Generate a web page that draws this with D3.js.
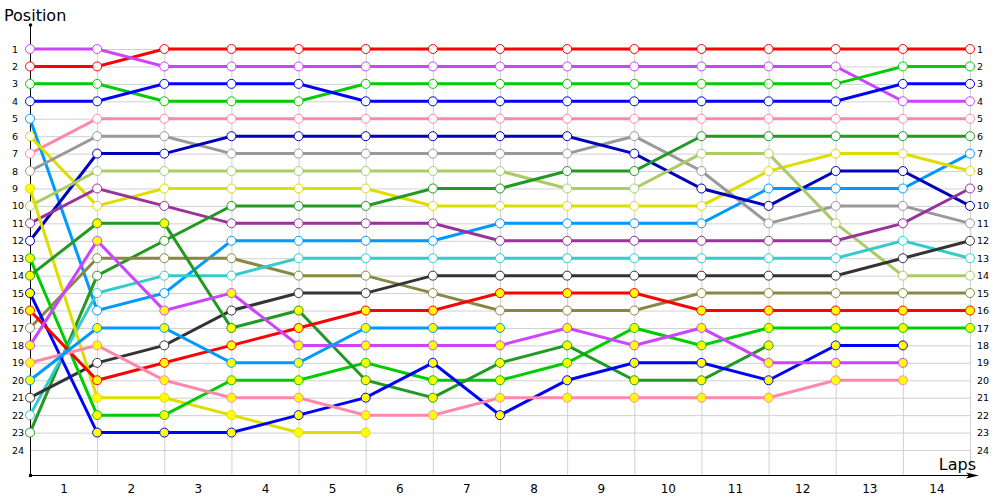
<!DOCTYPE html>
<html>
<head>
<meta charset="utf-8">
<script src="https://cdn.jsdelivr.net/npm/d3@7"></script>
<style>
	body { margin: 0; background: #fff; }
	text { font-family: Tahoma, "DejaVu Sans", sans-serif; }
</style>
</head>
<body>
<div id="chart"></div>
<script>
const laps = [1, 2, 3, 4, 5, 6, 7, 8, 9, 10, 11, 12, 13, 14];
const positions = d3.range(1, 25);

// position after each lap, index 0 = grid
const red1 = [2, 2, 1, 1, 1, 1, 1, 1, 1, 1, 1, 1, 1, 1, 1];
const violet1 = [1, 1, 2, 2, 2, 2, 2, 2, 2, 2, 2, 2, 2, 4, 4];
const green1 = [3, 3, 4, 4, 4, 3, 3, 3, 3, 3, 3, 3, 3, 2, 2];
const blue1 = [4, 4, 3, 3, 3, 4, 4, 4, 4, 4, 4, 4, 4, 3, 3];
const pink1 = [7, 5, 5, 5, 5, 5, 5, 5, 5, 5, 5, 5, 5, 5, 5];
const lightBlue1 = [5, 16, 15, 12, 12, 12, 12, 11, 11, 11, 11, 9, 9, 9, 7];
const yellow1 = [6, 10, 9, 9, 9, 9, 10, 10, 10, 10, 10, 8, 7, 7, 8];
const gray = [8, 6, 6, 7, 7, 7, 7, 7, 7, 6, 8, 11, 10, 10, 11];
const navy = [12, 7, 7, 6, 6, 6, 6, 6, 6, 7, 9, 10, 8, 8, 10];
const lightGreen = [10, 8, 8, 8, 8, 8, 8, 8, 9, 9, 7, 7, 11, 14, 14];
const darkPurple = [11, 9, 10, 11, 11, 11, 11, 12, 12, 12, 12, 12, 12, 11, 9];
const darkGreen1 = [23, 14, 12, 10, 10, 10, 9, 9, 8, 8, 6, 6, 6, 6, 6];
const olive = [17, 13, 13, 13, 14, 14, 15, 16, 16, 16, 15, 15, 15, 15, 15];
const cyan = [22, 15, 14, 14, 13, 13, 13, 13, 13, 13, 13, 13, 13, 12, 13];
const darkGray = [21, 19, 18, 16, 15, 15, 14, 14, 14, 14, 14, 14, 14, 13, 12];

// lapped cars (yellow markers)
const yellow2 = [9, 21, 21, 22, 23, 23];
const green2 = [13, 22, 22, 20, 20, 19, 20, 20, 19, 17, 18, 17, 17, 17, 17];
const darkGreen2 = [14, 11, 11, 17, 16, 20, 21, 19, 18, 20, 20, 18];
const blue2 = [15, 23, 23, 23, 22, 21, 19, 22, 20, 19, 19, 20, 18, 18];
const red2 = [16, 20, 19, 18, 17, 16, 16, 15, 15, 15, 16, 16, 16, 16, 16];
const violet2 = [18, 12, 16, 15, 18, 18, 18, 18, 17, 18, 17, 19, 19, 19];
const pink2 = [19, 18, 20, 21, 21, 22, 22, 21, 21, 21, 21, 21, 20, 20];
const lightBlue2 = [20, 17, 17, 19, 19, 17, 17, 17];

const series = [
	{ color: "#ff0000", fill: "#fff", values: red1 },
	{ color: "#cc44ff", fill: "#fff", values: violet1 },
	{ color: "#00cc00", fill: "#fff", values: green1 },
	{ color: "#0000ff", fill: "#fff", values: blue1 },
	{ color: "#ff88aa", fill: "#fff", values: pink1 },
	{ color: "#0099ff", fill: "#fff", values: lightBlue1 },
	{ color: "#dddd00", fill: "#fff", values: yellow1 },
	{ color: "#999999", fill: "#fff", values: gray },
	{ color: "#0000bb", fill: "#fff", values: navy },
	{ color: "#aacc66", fill: "#fff", values: lightGreen },
	{ color: "#993399", fill: "#fff", values: darkPurple },
	{ color: "#229922", fill: "#fff", values: darkGreen1 },
	{ color: "#888844", fill: "#fff", values: olive },
	{ color: "#33cccc", fill: "#fff", values: cyan },
	{ color: "#333333", fill: "#fff", values: darkGray },
	{ color: "#dddd00", fill: "#ffff00", values: yellow2 },
	{ color: "#00cc00", fill: "#ffff00", values: green2 },
	{ color: "#229922", fill: "#ffff00", values: darkGreen2 },
	{ color: "#0000ff", fill: "#ffff00", values: blue2 },
	{ color: "#ff0000", fill: "#ffff00", values: red2 },
	{ color: "#cc44ff", fill: "#ffff00", values: violet2 },
	{ color: "#ff88aa", fill: "#ffff00", values: pink2 },
	{ color: "#0099ff", fill: "#ffff00", values: lightBlue2 }
];

const w = 1000;
const h = 500;
const padLeft = 30;
const padRight = 970;
const padTop = 49;
const padBottom = 450;
const axisY = 475;

const xScale = d3.scaleLinear()
	.domain([0, laps.length])
	.range([padLeft, padRight]);

const yScale = d3.scaleLinear()
	.domain([1, 24])
	.range([padTop, padBottom]);

const svg = d3.select("#chart")
	.append("svg")
	.attr("width", w)
	.attr("height", h);

// Grid
svg.append("g")
	.selectAll("line")
	.data(positions)
	.enter()
	.append("line")
	.attr("x1", padLeft)
	.attr("x2", padRight)
	.attr("y1", d => yScale(d) + 0.5)
	.attr("y2", d => yScale(d) + 0.5)
	.attr("stroke", "#d0d0d0");

svg.append("g")
	.selectAll("line")
	.data(d3.range(1, laps.length + 1))
	.enter()
	.append("line")
	.attr("x1", d => xScale(d) + 0.5)
	.attr("x2", d => xScale(d) + 0.5)
	.attr("y1", 45)
	.attr("y2", axisY)
	.attr("stroke", "#d0d0d0");

// Axes
const yAxisL = d3.axisLeft(yScale).tickValues(positions).tickSize(0).tickPadding(0);
const gL = svg.append("g")
	.attr("transform", "translate(12, 0)")
	.call(yAxisL);
gL.select(".domain").remove();
gL.selectAll("text")
	.attr("text-anchor", "start")
	.attr("font-size", 9.5)
	.attr("font-family", "Tahoma, 'DejaVu Sans', sans-serif")
	.attr("fill", "#000");

const yAxisR = d3.axisRight(yScale).tickValues(positions).tickSize(0).tickPadding(0);
const gR = svg.append("g")
	.attr("transform", "translate(977, 0)")
	.call(yAxisR);
gR.select(".domain").remove();
gR.selectAll("text")
	.attr("font-size", 9.5)
	.attr("font-family", "Tahoma, 'DejaVu Sans', sans-serif")
	.attr("fill", "#000");

const xAxis = d3.axisBottom(xScale)
	.tickValues(laps.map(l => l - 0.5))
	.tickFormat(d => d + 0.5)
	.tickSize(0)
	.tickPadding(9);
const gX = svg.append("g")
	.attr("transform", `translate(0, ${axisY})`)
	.call(xAxis);
gX.select(".domain").remove();
gX.selectAll("text")
	.attr("font-size", 12)
	.attr("font-family", "Tahoma, 'DejaVu Sans', sans-serif")
	.attr("fill", "#000");

svg.append("line")
	.attr("x1", padLeft + 0.5).attr("x2", padLeft + 0.5)
	.attr("y1", 25).attr("y2", axisY)
	.attr("stroke", "#000");
svg.append("line")
	.attr("x1", padLeft).attr("x2", 972)
	.attr("y1", axisY + 0.5).attr("y2", axisY + 0.5)
	.attr("stroke", "#000");
svg.append("circle").attr("cx", padLeft + 0.5).attr("cy", 25).attr("r", 1.8).attr("fill", "#000");
svg.append("rect").attr("x", padLeft - 1).attr("y", axisY - 1).attr("width", 3).attr("height", 3).attr("fill", "#000");
svg.append("path")
	.attr("d", `M966,${axisY - 2.5}L979,${axisY + 0.5}L966,${axisY + 3.5}L969,${axisY + 0.5}Z`)
	.attr("fill", "#000");

// Lines
const line = d3.line()
	.x((d, i) => xScale(i))
	.y(d => yScale(d));

const gs = svg.append("g")
	.selectAll("g")
	.data(series)
	.enter()
	.append("g");

gs.append("path")
	.attr("d", d => line(d.values))
	.attr("fill", "none")
	.attr("stroke", d => d.color)
	.attr("stroke-width", 3);

gs.each(function (s) {
	d3.select(this)
		.selectAll("circle")
		.data(s.values)
		.enter()
		.append("circle")
		.attr("cx", (d, i) => xScale(i))
		.attr("cy", d => yScale(d))
		.attr("r", 4.5)
		.attr("fill", s.fill)
		.attr("stroke", s.color)
		.attr("stroke-width", 1);
});

// Titles
svg.append("text")
	.text("Position")
	.attr("x", 4)
	.attr("y", 21)
	.attr("font-size", 16);

svg.append("text")
	.text("Laps")
	.attr("x", 976)
	.attr("y", 470)
	.attr("text-anchor", "end")
	.attr("font-size", 16);
</script>
</body>
</html>
